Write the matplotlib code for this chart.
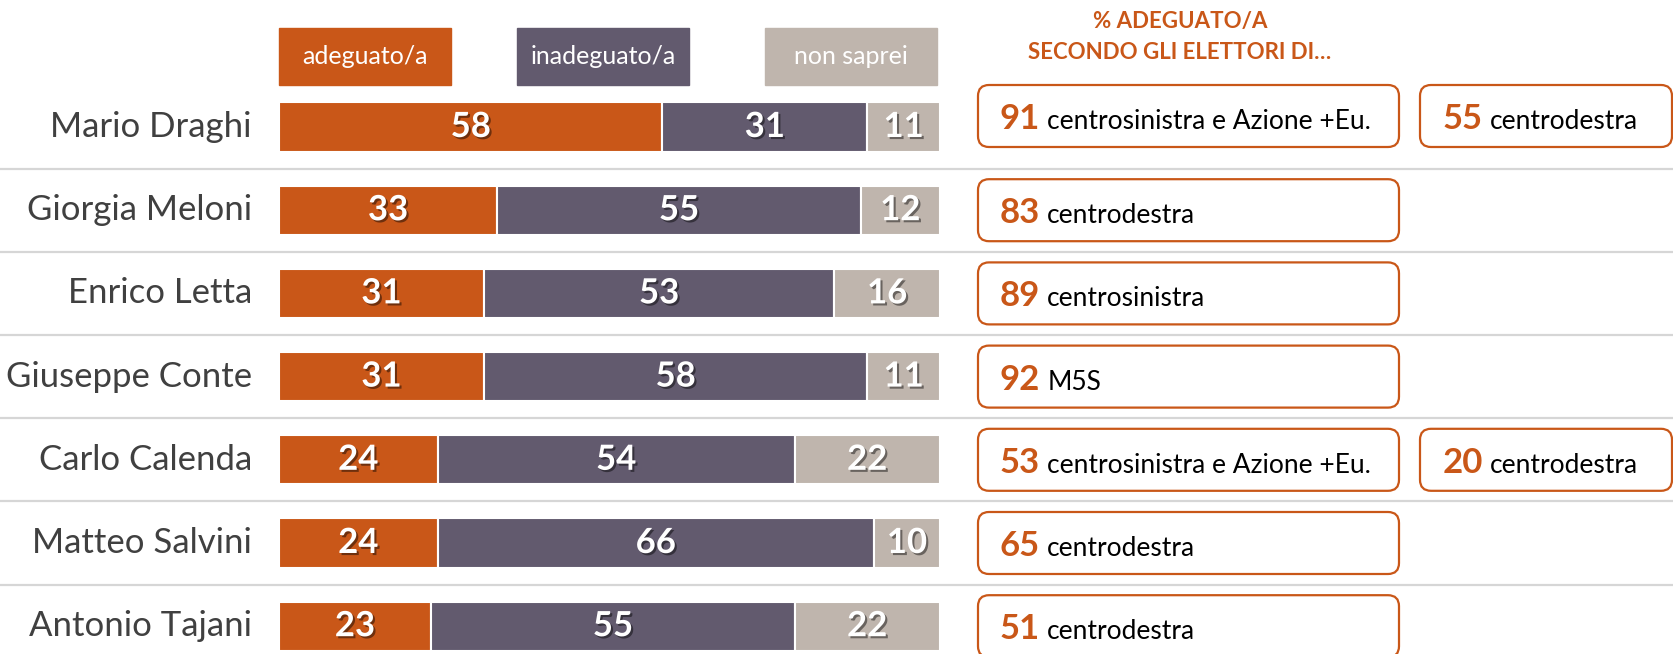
import matplotlib.pyplot as plt
import matplotlib.patheffects as pe
from matplotlib.patches import FancyBboxPatch, Rectangle

plt.rcParams['font.family'] = ['Lato', 'DejaVu Sans']

# data
names = ['Mario Draghi', 'Giorgia Meloni', 'Enrico Letta', 'Giuseppe Conte',
         'Carlo Calenda', 'Matteo Salvini', 'Antonio Tajani']
adeguato = [58, 33, 31, 31, 24, 24, 23]
inadeguato = [31, 55, 53, 58, 54, 66, 55]
non_saprei = [11, 12, 16, 11, 22, 10, 22]
series_labels = ['adeguato/a', 'inadeguato/a', 'non saprei']

# % adeguato/a secondo gli elettori di...
box1_values = [91, 83, 89, 92, 53, 65, 51]
box1_labels = ['centrosinistra e Azione +Eu.', 'centrodestra', 'centrosinistra', 'M5S',
               'centrosinistra e Azione +Eu.', 'centrodestra', 'centrodestra']
box2_rows = [0, 4]
box2_values = [55, 20]
box2_labels = ['centrodestra', 'centrodestra']

colors = ['#C95718', '#625A6E', '#BFB5AD']
orange = '#C95718'

W, H = 1674, 654
fig = plt.figure(figsize=(W / 100, H / 100), dpi=100)

# row layout: row i centred at 127 + 83.2*i px from top
pitch = 83.2
ylim = ((H - 127) / pitch, -127 / pitch)

ax = fig.add_axes([279 / W, 0, 661 / W, 1])
ax.set_xlim(0, 100)
ax.set_ylim(*ylim)
ax.axis('off')

ov = fig.add_axes([0, 0, 1, 1], zorder=-1)
ov.set_xlim(0, W)
ov.set_ylim(*ylim)
ov.axis('off')

rows = list(range(len(names)))
shadow = [pe.SimplePatchShadow(offset=(1.5, -1.5), shadow_rgbFace='black', alpha=0.45), pe.Normal()]

left = [0] * len(names)
for vals, col in zip([adeguato, inadeguato, non_saprei], colors):
    bars = ax.barh(rows, vals, left=left, height=0.59, color=col, edgecolor='white', linewidth=1.5)
    for b, v in zip(bars, vals):
        ax.text(b.get_x() + b.get_width() / 2, b.get_y() + b.get_height() / 2, f'{v}',
                ha='center', va='center', color='white', fontsize=25, fontweight='bold',
                path_effects=shadow)
    left = [l + v for l, v in zip(left, vals)]

# legend boxes above bars
legend_x = [0, 36, 73.5]
for x0, lab, col in zip(legend_x, series_labels, colors):
    ax.add_patch(Rectangle((x0, -0.847 - 0.342), 26, 0.684, color=col, clip_on=False))
    ax.text(x0 + 13, -0.847, lab, ha='center', va='center', color='white', fontsize=18)

# separators and names
ov.hlines([i + 0.5 for i in rows[:-1]], 0, W, color='#D6D6D6', lw=1.6)
for i, n in zip(rows, names):
    ov.text(252, i, n, ha='right', va='center', fontsize=25, color='#404040')

# header
ov.text(1180, -1.27, '% ADEGUATO/A', ha='center', va='center', color=orange,
        fontsize=16, fontweight='bold')
ov.text(1180, -0.9, 'SECONDO GLI ELETTORI DI…', ha='center', va='center', color=orange,
        fontsize=16, fontweight='bold')

box_h = 62 / pitch
asp = 1 / pitch


def draw_box(x0, x1, y, value, label, text_x):
    ov.add_patch(FancyBboxPatch((x0, y - box_h / 2), x1 - x0, box_h,
                                boxstyle='round,pad=0,rounding_size=11', mutation_aspect=asp,
                                facecolor='white', edgecolor=orange, lw=1.6))
    base = y + 13 / pitch
    t = ov.text(text_x, base, f'{value}', ha='left', va='baseline', color=orange,
                fontsize=25, fontweight='bold')
    ov.annotate(label, xy=(1, base), xycoords=(t, 'data'), xytext=(5, 0),
                textcoords='offset points', ha='left', va='baseline', color='black', fontsize=19)


for i, v, lab in zip(rows, box1_values, box1_labels):
    y = i - (11 / pitch if i == 0 else 0)
    draw_box(978, 1399, y, v, lab, 1000)

for i, v, lab in zip(box2_rows, box2_values, box2_labels):
    y = i - (11 / pitch if i == 0 else 0)
    draw_box(1420, 1672, y, v, lab, 1443)

fig.savefig('out.png', dpi=100)
